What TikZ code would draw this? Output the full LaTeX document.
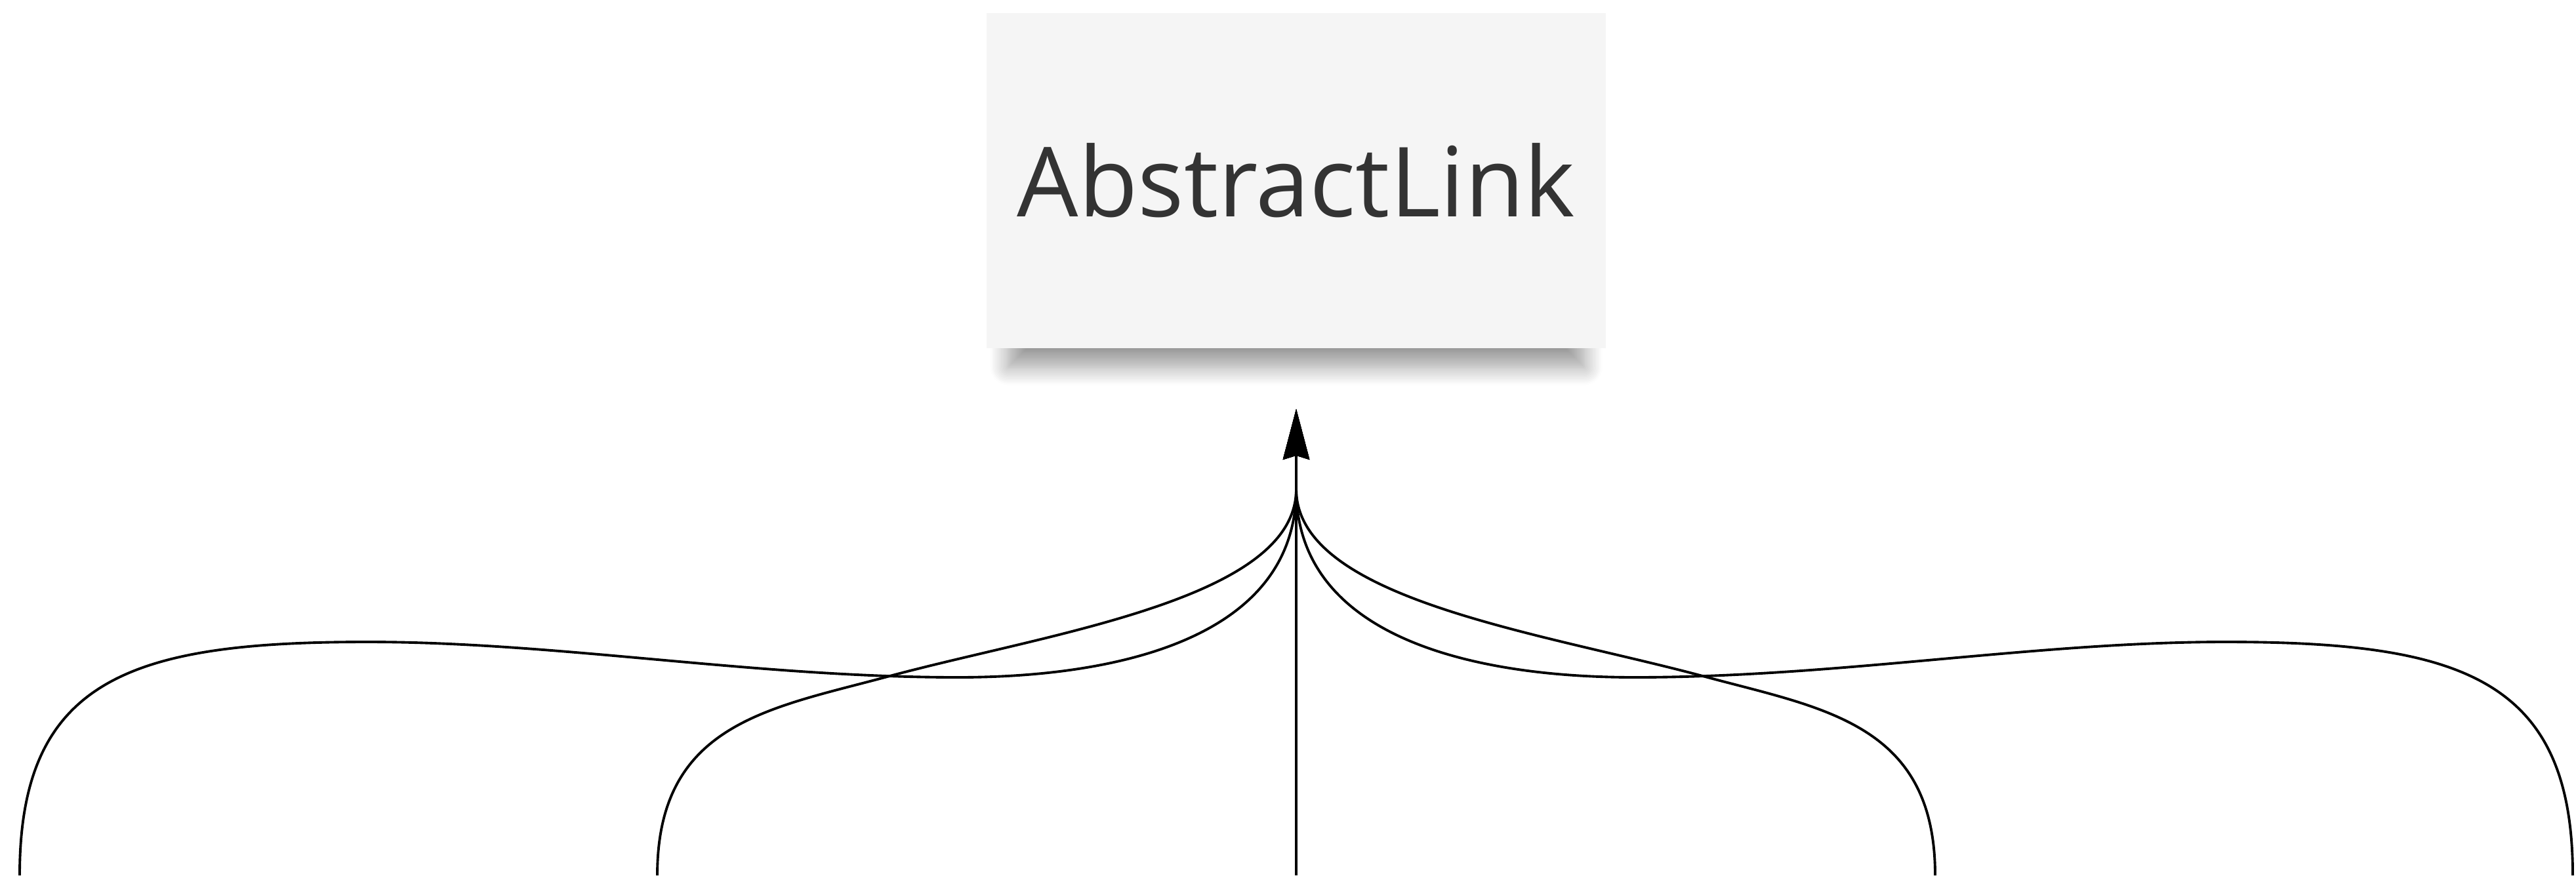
\documentclass[tikz,border=0pt]{standalone}
\usepackage{fontspec}
\setmainfont{Open Sans}
\usetikzlibrary{arrows.meta, positioning, calc, shadows.blur}
\definecolor{notefill}{RGB}{245,245,245}
\definecolor{notetext}{RGB}{51,51,51}

\begin{document}
\begin{tikzpicture}[
    linkbox/.style={rectangle, fill=notefill, inner sep=0pt,
        minimum width=9.44cm, minimum height=5.11cm,
        text=notetext, font=\fontsize{42}{50}\selectfont,
        blur shadow={shadow xshift=0pt, shadow yshift=-0.5cm, shadow scale=0.93,
            shadow blur radius=0.3cm, shadow blur steps=12, shadow opacity=40}},
    curve/.style={line width=1.1pt, draw=black},
    arrow/.style={curve, -{Stealth[length=0.77cm, width=0.40cm, inset=0.06cm]}}
]
\useasboundingbox (0,0) rectangle (39.27,13.35);

% === Target ===
\node[linkbox] (link) at (19.76,10.595) {AbstractLink};

% === Ends of the connectors ===
\coordinate (tip) at ([yshift=-0.92cm]link.south);
\coordinate (merge) at ([yshift=-2.14cm]link.south);
\coordinate (s1) at (0.30,0);
\coordinate (s2) at (10.02,0);
\coordinate (s3) at (19.76,0);
\coordinate (s4) at (29.50,0);
\coordinate (s5) at (39.22,0);

% === Outer curves ===
\draw[arrow] (s1) .. controls (0.30,3.0) and (2.0,3.56) .. (5.6,3.56)
    .. controls (8.5,3.56) and (11.5,3.02) .. (14.6,3.02)
    .. controls (17.0,3.02) and (19.76,3.6) .. (merge) -- (tip);
\draw[arrow] (s5) .. controls (39.22,3.0) and (37.52,3.56) .. (33.92,3.56)
    .. controls (31.02,3.56) and (28.02,3.02) .. (24.92,3.02)
    .. controls (22.52,3.02) and (19.76,3.6) .. (merge) -- (tip);

% === Inner curves ===
\draw[arrow] (s2) .. controls (10.02,2.3) and (11.7,2.54) .. (13.49,3.02)
    .. controls (15.99,3.70) and (19.76,4.2) .. (merge) -- (tip);
\draw[arrow] (s4) .. controls (29.50,2.3) and (27.82,2.54) .. (26.03,3.02)
    .. controls (23.53,3.70) and (19.76,4.2) .. (merge) -- (tip);

% === Straight one ===
\draw[arrow] (s3) -- (tip);

\end{tikzpicture}
\end{document}
